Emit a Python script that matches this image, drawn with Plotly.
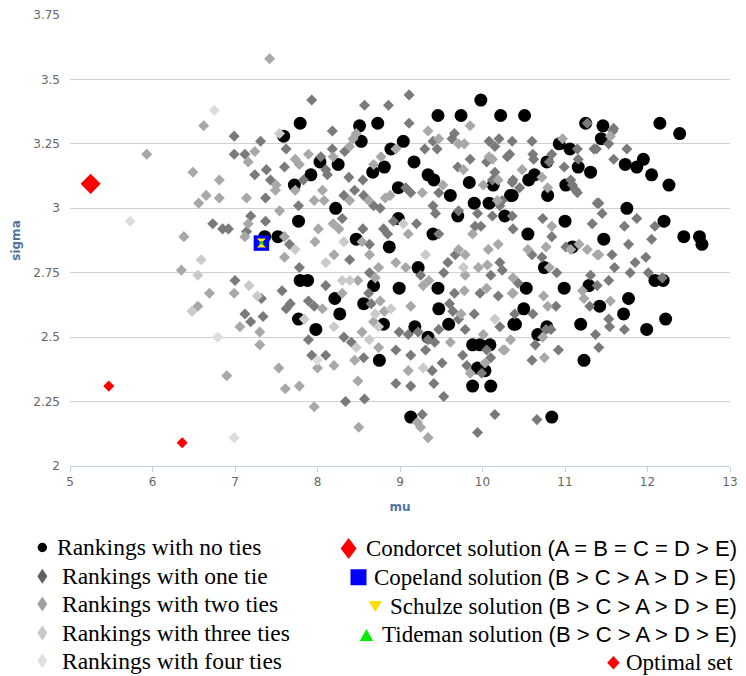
import plotly.graph_objects as go

# ---------------- data (mu, sigma) ----------------
no_ties = [
    (9.98, 3.42), (9.46, 3.36), (9.74, 3.36), (10.22, 3.36), (10.51, 3.36), (7.79, 3.33), (12.15, 3.33),
    (12.39, 3.29), (11.25, 3.33), (11.46, 3.32), (11.44, 3.27), (10.93, 3.25), (11.06, 3.23), (10.78, 3.18),
    (11.16, 3.16), (11.31, 3.14), (11.73, 3.17), (11.87, 3.16), (11.95, 3.19), (12.05, 3.13), (12.26, 3.09),
    (10.56, 3.11), (10.63, 3.13), (10.34, 3.05), (10.79, 3.05), (11.01, 3.09), (11.75, 3.00), (12.20, 2.95),
    (11.00, 2.95), (11.47, 2.88), (12.44, 2.89), (12.63, 2.89), (12.66, 2.86), (10.55, 2.90), (10.27, 2.97),
    (8.73, 3.33), (8.51, 3.32), (8.53, 3.26), (7.59, 3.28), (9.04, 3.26), (8.89, 3.23), (9.17, 3.18),
    (8.03, 3.18), (8.25, 3.17), (8.81, 3.16), (8.67, 3.14), (7.92, 3.13), (9.34, 3.13), (9.41, 3.11),
    (9.84, 3.10), (9.61, 3.05), (7.72, 3.09), (9.90, 3.02), (10.08, 3.02), (8.98, 3.08), (8.22, 3.00),
    (7.77, 2.95), (9.70, 2.97), (10.36, 3.05), (9.40, 2.90), (8.47, 2.88), (7.36, 2.89), (7.52, 2.89),
    (8.87, 2.85), (8.98, 2.96), (10.13, 3.09), (11.09, 2.85),
    (7.79, 2.72), (7.88, 2.72), (8.21, 2.65), (8.27, 2.59), (7.98, 2.53), (7.77, 2.57), (8.56, 2.63),
    (8.68, 2.70), (8.80, 2.55), (8.99, 2.69), (9.22, 2.77), (9.46, 2.69), (9.47, 2.61), (9.18, 2.54),
    (9.34, 2.50), (9.59, 2.55), (8.75, 2.41), (9.88, 2.47), (9.97, 2.47), (10.09, 2.47), (9.94, 2.38),
    (10.03, 2.37), (9.88, 2.31), (10.10, 2.31), (9.13, 2.19), (10.38, 2.55),
    (10.75, 2.77), (11.29, 2.70), (10.99, 2.69), (10.53, 2.69), (12.09, 2.72), (12.19, 2.72), (11.77, 2.65),
    (11.42, 2.62), (10.50, 2.61), (11.71, 2.59), (10.40, 2.55), (10.78, 2.54), (10.67, 2.51), (11.19, 2.55),
    (11.99, 2.53), (12.22, 2.57), (11.23, 2.41), (10.84, 2.19),
]

one_tie = [
    (6.99, 3.28), (7.31, 3.26), (7.62, 3.23), (6.99, 3.21), (7.12, 3.21), (7.60, 3.16), (7.38, 3.15),
    (7.24, 3.13), (7.43, 3.11), (7.37, 3.04), (6.73, 2.94), (6.85, 2.92), (7.19, 2.97), (7.37, 2.95),
    (7.14, 2.91), (7.00, 2.72), (7.32, 2.65), (7.57, 2.68), (7.67, 2.63), (7.12, 2.59), (7.19, 2.56),
    (7.34, 2.58), (7.93, 3.42), (8.57, 3.40), (8.86, 3.40), (9.11, 3.44), (9.11, 3.33), (8.18, 3.30),
    (8.04, 3.20), (8.18, 3.23), (8.33, 3.22), (8.10, 3.15), (8.12, 3.13), (8.38, 3.12), (8.55, 3.11),
    (7.83, 3.11), (8.32, 3.05), (8.45, 3.07), (8.56, 3.05), (8.68, 3.01), (8.76, 3.00), (9.07, 3.08),
    (9.13, 3.06), (7.77, 3.01), (6.92, 2.92), (7.66, 2.86), (8.30, 2.96), (8.39, 2.80), (8.55, 2.92),
    (8.63, 2.86), (8.80, 2.92), (8.85, 2.90), (8.92, 2.95), (7.78, 2.77),
    (9.66, 3.29), (9.63, 3.27), (9.40, 3.26), (9.30, 3.23), (9.45, 3.23), (10.08, 3.26), (10.20, 3.27),
    (10.15, 3.24), (10.36, 3.26), (10.60, 3.26), (10.61, 3.21), (10.62, 3.19), (10.84, 3.21), (11.15, 3.23),
    (11.16, 3.19), (11.38, 3.23), (10.33, 3.21), (10.05, 3.18), (9.85, 3.19), (9.70, 3.16), (10.81, 3.18),
    (10.99, 3.16), (10.15, 3.14), (10.12, 3.11), (10.37, 3.11), (10.45, 3.08), (11.07, 3.11), (11.13, 3.07),
    (9.47, 3.06), (10.24, 3.03), (9.40, 3.01), (9.43, 2.98), (9.71, 2.99), (9.94, 2.98), (10.12, 2.97),
    (10.21, 3.01), (10.36, 2.97), (9.91, 2.93), (9.98, 2.93), (10.37, 2.92), (10.73, 2.96), (10.84, 2.89),
    (11.33, 2.94), (11.39, 3.02), (9.20, 2.94), (9.47, 2.90), (9.67, 2.82), (9.58, 2.79), (10.60, 2.82),
    (10.72, 2.81), (11.01, 2.85), (10.21, 2.79), (10.24, 2.76),
    (7.62, 2.61), (7.89, 2.64), (7.96, 2.62), (8.10, 2.70), (8.63, 2.75), (8.62, 2.67), (8.65, 2.63),
    (8.99, 2.52), (9.10, 2.51), (7.89, 2.49), (8.32, 2.50), (8.41, 2.48), (8.56, 2.42), (7.93, 2.43),
    (8.10, 2.43), (8.95, 2.45), (9.13, 2.43), (8.95, 2.32), (9.13, 2.31), (8.34, 2.25), (8.57, 2.26),
    (9.25, 2.74), (9.53, 2.75), (10.10, 2.74), (10.43, 2.71), (9.66, 2.67), (9.97, 2.67), (10.19, 2.66),
    (9.60, 2.63), (9.64, 2.60), (9.90, 2.59), (9.71, 2.57), (10.21, 2.54), (10.39, 2.59), (10.61, 2.59),
    (10.89, 2.62), (10.77, 2.53), (10.83, 2.53), (9.79, 2.53), (9.47, 2.53), (9.22, 2.52), (9.34, 2.49),
    (9.42, 2.48), (10.05, 2.45), (10.64, 2.47), (10.92, 2.45), (9.31, 2.45), (9.76, 2.43), (10.10, 2.42),
    (9.81, 2.39), (9.99, 2.36), (9.51, 2.40), (10.60, 2.41), (9.39, 2.37), (9.41, 2.32), (9.53, 2.27),
    (10.15, 2.20), (10.66, 2.18), (9.94, 2.13), (9.27, 2.20), (11.31, 2.74), (11.39, 2.70), (11.30, 2.62),
    (11.37, 2.51), (11.41, 2.46),
    (11.59, 3.31), (11.53, 3.25), (11.75, 3.23), (11.59, 3.19), (11.41, 3.02), (11.45, 2.98), (11.87, 2.96),
    (11.72, 2.93), (12.09, 2.93), (12.05, 2.88), (11.77, 2.86), (11.57, 2.82), (11.60, 2.77), (11.85, 2.79),
    (11.98, 2.81), (11.79, 2.75), (12.01, 2.75), (11.53, 2.72), (12.18, 2.73), (11.53, 2.57), (11.54, 2.54),
    (11.72, 2.53), (11.27, 3.33), (11.58, 3.30), (10.30, 3.20), (11.35, 3.23), (10.36, 3.10), (11.09, 3.09),
    (11.15, 3.06), (10.90, 2.75),
]

two_ties = [
    (7.42, 3.58), (6.62, 3.32), (5.93, 3.21), (7.24, 3.22), (7.16, 3.18), (6.49, 3.14), (6.81, 3.11),
    (7.50, 3.09), (6.65, 3.05), (6.81, 3.04), (6.56, 3.02), (7.14, 3.04), (7.49, 3.07), (7.54, 2.99),
    (6.38, 2.89), (7.16, 2.94), (6.35, 2.76), (6.69, 2.67), (6.99, 2.67), (6.55, 2.62), (7.06, 2.54),
    (7.30, 2.52), (7.30, 2.47), (7.53, 2.38), (6.90, 2.35), (7.61, 2.30),
    (8.47, 3.29), (8.43, 3.27), (7.73, 3.19), (7.89, 3.21), (8.19, 3.20), (8.39, 3.24), (7.78, 3.17),
    (8.68, 3.17), (8.77, 3.20), (8.95, 3.23), (7.73, 3.07), (8.06, 3.07), (8.08, 3.03), (7.96, 3.03),
    (8.39, 3.03), (8.62, 3.03), (8.82, 3.04), (8.88, 3.05), (7.12, 2.89), (7.60, 2.89), (7.60, 2.81),
    (8.01, 2.92), (7.97, 2.87), (8.19, 2.94), (8.26, 2.92), (8.20, 2.82), (8.54, 2.87), (8.63, 2.82),
    (9.10, 2.90), (8.74, 2.77), (8.95, 2.79), (9.07, 2.77),
    (9.34, 3.30), (9.85, 3.32), (9.71, 3.25), (9.78, 3.25), (9.47, 3.27), (10.08, 3.20), (10.12, 3.19),
    (9.77, 3.15), (10.48, 3.15), (10.19, 3.11), (10.01, 3.09), (10.72, 3.12), (10.79, 3.08), (9.52, 3.09),
    (9.27, 3.06), (10.18, 3.03), (10.84, 2.93), (9.88, 2.90), (10.07, 2.84), (10.19, 2.86), (9.71, 2.84),
    (9.79, 2.82), (10.55, 2.84), (10.77, 2.85), (11.07, 2.84), (11.17, 2.86), (11.27, 2.84), (11.39, 2.82),
    (10.06, 2.78), (9.95, 2.77), (10.81, 2.77),
    (8.06, 2.61), (8.30, 2.67), (8.49, 2.72), (8.70, 2.73), (8.76, 2.64), (8.81, 2.60), (8.68, 2.56),
    (9.13, 2.62), (8.54, 2.52), (8.74, 2.46), (8.45, 2.41), (8.00, 2.38), (8.20, 2.39), (8.49, 2.33),
    (7.78, 2.31), (9.10, 2.37), (7.96, 2.23), (8.50, 2.15),
    (9.35, 2.72), (9.28, 2.70), (9.79, 2.74), (10.37, 2.73), (9.78, 2.68), (10.05, 2.69), (10.37, 2.67),
    (9.74, 2.59), (9.61, 2.48), (10.01, 2.51), (10.25, 2.45), (10.34, 2.49), (10.73, 2.50), (10.74, 2.66),
    (10.79, 2.62), (10.75, 2.42), (10.03, 2.40), (9.85, 2.36), (9.25, 2.15), (9.34, 2.11), (9.21, 2.17),
    (11.23, 2.65), (11.21, 2.68), (11.55, 3.28), (11.41, 2.82), (11.55, 2.64), (10.97, 3.27), (10.36, 2.67),
    (10.27, 2.45),
]

three_ties = [
    (7.54, 3.29), (6.59, 2.80), (6.55, 2.74), (7.17, 2.70), (7.27, 2.66), (6.48, 2.60), (7.73, 2.84),
    (8.32, 2.87), (8.10, 2.79), (9.04, 2.94), (8.30, 2.72), (8.39, 2.72), (7.84, 2.57), (8.89, 2.61),
    (8.70, 2.59), (8.74, 2.54), (8.20, 2.54), (8.47, 2.46), (8.63, 2.49), (9.77, 2.77), (9.31, 2.82),
    (10.15, 2.57), (9.28, 2.38),
]

four_ties = [(5.73, 2.95), (6.99, 2.11), (6.75, 3.38), (6.79, 2.50), (8.00, 2.41)]

condorcet = [(5.25, 3.095)]
optimal_set = [(5.47, 2.31), (6.36, 2.09)]
copeland = [(7.32, 2.865)]
schulze = [(7.32, 2.865)]
tideman = [(7.32, 2.865)]

x_ticks = [5, 6, 7, 8, 9, 10, 11, 12, 13]
y_ticks = [2, 2.25, 2.5, 2.75, 3, 3.25, 3.5, 3.75]
y_tick_text = ["2", "2.25", "2.5", "2.75", "3", "3.25", "3.5", "3.75"]

legend_left = ["Rankings with no ties", "Rankings with one tie", "Rankings with two ties",
               "Rankings with three ties", "Rankings with four ties"]
legend_right = [("Condorcet solution", "(A = B = C = D &gt; E)"),
                ("Copeland solution", "(B &gt; C &gt; A &gt; D &gt; E)"),
                ("Schulze solution", "(B &gt; C &gt; A &gt; D &gt; E)"),
                ("Tideman solution", "(B &gt; C &gt; A &gt; D &gt; E)"),
                ("Optimal set", None)]

# ---------------- figure ----------------
W, H = 746, 676
ML, MR, MT, MB = 70, 8, 12, 210
PW, PH = W - ML - MR, H - MT - MB


def px(x):
    return (x - ML) / PW


def py(y):
    return (H - MB - y) / PH


def xy(pairs):
    return [p[0] for p in pairs], [p[1] for p in pairs]


fig = go.Figure()


def add(pairs, symbol, size, color, name):
    x, y = xy(pairs)
    fig.add_trace(go.Scatter(x=x, y=y, mode="markers", name=name, showlegend=False,
                             marker=dict(symbol=symbol, size=size, color=color, line=dict(width=0))))


add(no_ties, "circle", 13, "#000000", legend_left[0])
add(one_tie, "diamond", 8.5, "#7a7a7a", legend_left[1])
add(two_ties, "diamond", 8.5, "#a8a8a8", legend_left[2])
add(three_ties, "diamond", 8.5, "#cacaca", legend_left[3])
add(four_ties, "diamond", 8.5, "#dddddd", legend_left[4])
add(condorcet, "diamond", 15.5, "#ff0000", "Condorcet solution")
add(optimal_set, "diamond", 8.5, "#ff0000", "Optimal set")
add(copeland, "square", 15.5, "#0000ff", "Copeland solution")
add(schulze, "hourglass", 9, "#ffee00", "Schulze solution")
add(tideman, "triangle-up", 5, "#00e000", "Tideman solution")

shapes = []
annotations = []


def shape_path(cx, cy, path, color):
    shapes.append(dict(type="path", xref="paper", yref="paper", xsizemode="pixel", ysizemode="pixel",
                       xanchor=px(cx), yanchor=py(cy), path=path, fillcolor=color,
                       line=dict(width=0)))


def diamond_tall(w, h):
    return f"M0,{-h/2}L{w/2},0L0,{h/2}L{-w/2},0Z"


# left legend column
rows_l = [548, 577, 605, 634, 662]
shapes.append(dict(type="circle", xref="paper", yref="paper", xsizemode="pixel", ysizemode="pixel",
                   xanchor=px(42), yanchor=py(rows_l[0]), x0=-4.7, x1=4.7, y0=-4.7, y1=4.7,
                   fillcolor="#000000", line=dict(width=0)))
for r, c in zip(rows_l[1:], ["#606060", "#a0a0a0", "#c8c8c8", "#e0e0e0"]):
    shape_path(42, r, diamond_tall(10, 15), c)
for i, (r, t) in enumerate(zip(rows_l, legend_left)):
    annotations.append(dict(text=t, x=px(55 if i == 0 else 60), y=py(r), xref="paper", yref="paper",
                            xanchor="left", yanchor="middle", showarrow=False,
                            font=dict(family="Liberation Serif", size=23.5, color="#000000")))

# right legend column
rows_r = [549, 578, 607, 636, 664]
shape_path(352, rows_r[0], diamond_tall(16, 21), "#ff0000")
shapes.append(dict(type="rect", xref="paper", yref="paper", xsizemode="pixel", ysizemode="pixel",
                   xanchor=px(362), yanchor=py(rows_r[1]), x0=-8, x1=8, y0=-8, y1=8,
                   fillcolor="#0000ff", line=dict(width=0)))
shape_path(379, rows_r[2], "M-6.7,5L6.7,5L0,-6Z", "#ffdd00")
shape_path(370, rows_r[3], "M-6.7,-6L6.7,-6L0,6Z", "#00ee00")
shape_path(620, rows_r[4], diamond_tall(12.5, 13.5), "#ff0000")
starts = [368, 376, 392, 384, 631]
for r, s, (a, b) in zip(rows_r, starts, legend_right):
    txt = a if b is None else (a + " <span style=\"font-family:Liberation Sans;font-size:22px\">" + b + "</span>")
    annotations.append(dict(text=txt, x=px(s), y=py(r), xref="paper", yref="paper",
                            xanchor="left", yanchor="middle", showarrow=False,
                            font=dict(family="Liberation Serif", size=23, color="#000000")))

fig.update_layout(
    width=W, height=H,
    margin=dict(l=ML, r=MR, t=MT, b=MB),
    paper_bgcolor="#ffffff", plot_bgcolor="#ffffff",
    showlegend=False,
    shapes=shapes, annotations=annotations,
    xaxis=dict(range=[5, 13], tickvals=x_ticks, showgrid=False, zeroline=False,
               showline=True, linecolor="#C0D0E0", linewidth=1,
               ticks="outside", ticklen=5, tickcolor="#C0D0E0", tickwidth=1,
               tickfont=dict(family="DejaVu Sans", size=12, color="#666666"),
               title=dict(text="<b>mu</b>", standoff=14,
                          font=dict(family="DejaVu Sans", size=12, color="#4d759e"))),
    yaxis=dict(range=[2, 3.75], tickvals=y_ticks, ticktext=y_tick_text, showgrid=True,
               gridcolor="#d0d0d0", gridwidth=1, zeroline=False, showline=False, ticks="",
               ticklabelstandoff=9,
               tickfont=dict(family="DejaVu Sans", size=12, color="#666666"),
               title=dict(text="<b>sigma</b>", standoff=10,
                          font=dict(family="DejaVu Sans", size=12, color="#4d759e"))),
)

fig.write_html("out.html", config={"displayModeBar": False},
               post_script="document.body.style.margin='0';")
